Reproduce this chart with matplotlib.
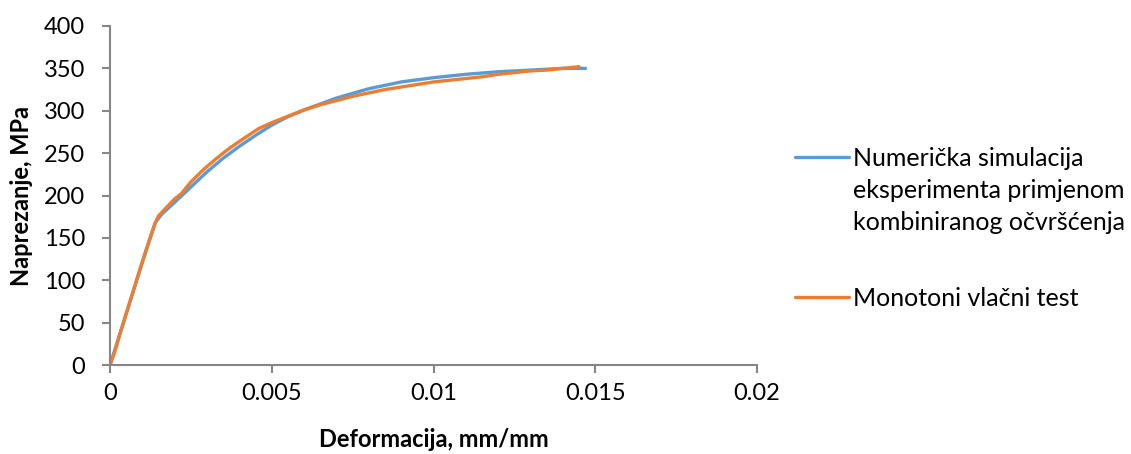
import matplotlib.pyplot as plt
from matplotlib.lines import Line2D

# podaci ocitani sa slike
sim_x = [0, 0.0005, 0.001, 0.0014, 0.0016, 0.002, 0.0025, 0.003, 0.0035, 0.004,
         0.0045, 0.005, 0.0055, 0.006, 0.007, 0.008, 0.009, 0.010, 0.011, 0.012,
         0.013, 0.014, 0.0147]
sim_y = [0, 60, 121, 168, 178, 192, 210, 228, 244, 258,
         271, 283, 293, 301, 315, 326, 334, 339, 343, 346,
         348, 350, 350]

test_x = [0, 0.0001, 0.0002, 0.0003, 0.0004, 0.0005, 0.0007, 0.0009, 0.0011, 0.0013,
          0.0014, 0.0015, 0.00175, 0.002, 0.0022, 0.0025, 0.0029, 0.0033, 0.0037, 0.0042,
          0.0046, 0.005, 0.0056, 0.006, 0.0065, 0.007, 0.0075, 0.008, 0.0085,
          0.009, 0.0095, 0.010, 0.0105, 0.011, 0.0115, 0.012, 0.0125, 0.013, 0.0135,
          0.014, 0.0145]
test_y = [0, 10, 22, 36, 48, 61, 85, 110, 134, 157,
          168, 176, 186, 196, 202, 216, 231, 244, 256, 269,
          279, 286, 295, 301, 307, 312, 317, 321, 325,
          328, 331, 334, 336, 338, 340, 343, 345, 347, 348,
          350, 352]

x_ticks = [0, 0.005, 0.01, 0.015, 0.02]
x_labels = ["0", "0.005", "0.01", "0.015", "0.02"]
y_ticks = [0, 50, 100, 150, 200, 250, 300, 350, 400]

BLUE = "#5B9BD5"
ORANGE = "#ED7D31"
GRAY = "#868686"

plt.rcParams['font.family'] = ['Lato', 'DejaVu Sans']

W, H = 1131, 454
fig = plt.figure(figsize=(W / 100, H / 100), dpi=100)
ax = fig.add_axes([110 / W, 1 - 365 / H, 647 / W, 339 / H])

ax.plot(sim_x, sim_y, color=BLUE, lw=2.4, solid_capstyle='round')
ax.plot(test_x, test_y, color=ORANGE, lw=2.4, solid_capstyle='round')

ax.set_xlim(0, 0.02)
ax.set_ylim(0, 400)
ax.set_xticks(x_ticks)
ax.set_xticklabels(x_labels)
ax.set_yticks(y_ticks)

for s in ['top', 'right']:
    ax.spines[s].set_visible(False)
for s in ['left', 'bottom']:
    ax.spines[s].set_color(GRAY)
    ax.spines[s].set_linewidth(1.5)
ax.tick_params(direction='out', length=6, width=1.5, color=GRAY, labelsize=17)
ax.tick_params(axis='y', pad=12)
ax.tick_params(axis='x', pad=7)

ax.set_xlabel("Deformacija, mm/mm", fontsize=17, fontweight='bold', labelpad=17)
ax.set_ylabel("Naprezanje, MPa", fontsize=17, fontweight='bold', labelpad=8)

# legenda rucno
leg_items = [
    (BLUE, ["Numerička simulacija", "eksperimenta primjenom",
            "kombiniranog očvršćenja"], 157, 166),
    (ORANGE, ["Monotoni vlačni test"], 297, 306),
]
for col, lines, py, base in leg_items:
    yf = 1 - py / H
    fig.add_artist(Line2D([795 / W, 849 / W], [yf, yf], color=col, lw=2.4,
                          solid_capstyle='round'))
    for i, ln in enumerate(lines):
        fig.text(853 / W, 1 - (base + 32 * i) / H, ln, fontsize=18,
                 va='baseline', ha='left')

fig.savefig("out.png", dpi=100)
